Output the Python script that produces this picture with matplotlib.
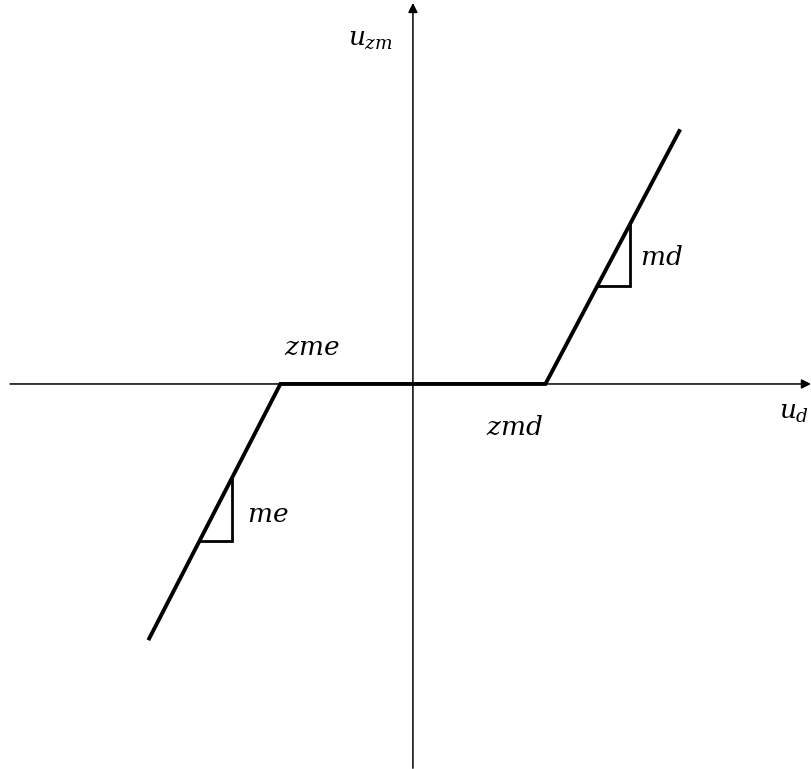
import numpy as np
import matplotlib
matplotlib.use("Agg")
import matplotlib.pyplot as plt

plt.rcParams["mathtext.fontset"] = "dejavuserif"

# Dead-zone parameters
zme = -5.0          # left edge of dead zone
zmd = 5.0           # right edge of dead zone
me = 1.94           # slope on the left branch
md = 1.89           # slope on the right branch
u_min, u_max = -9.95, 10.05   # extent of the drawn characteristic

# slope-indicator triangles: (x start, x end)
tri_md = (6.95, 8.2)
tri_me = (-8.05, -6.82)

# axis extents
x_lim = (-15.58, 15.02)
y_lim = (-14.53, 14.49)


def dead_zone(u):
    return np.where(u > zmd, md * (u - zmd), np.where(u < zme, me * (u - zme), 0.0))


fig = plt.figure(figsize=(8.11, 7.69), dpi=100)
ax = fig.add_axes([0, 0, 1, 1])
ax.set_xlim(*x_lim)
ax.set_ylim(*y_lim)
ax.axis("off")

# coordinate axes with arrowheads
ax.annotate("", xy=(x_lim[1], 0), xytext=(-15.2, 0),
            arrowprops=dict(arrowstyle="-|>", lw=1.1, color="black",
                            mutation_scale=14, shrinkA=0, shrinkB=0))
ax.annotate("", xy=(0, 14.38), xytext=(0, y_lim[0] + 0.03),
            arrowprops=dict(arrowstyle="-|>", lw=1.1, color="black",
                            mutation_scale=14, shrinkA=0, shrinkB=0))

# characteristic
u = np.array([u_min, zme, zmd, u_max])
ax.plot(u, dead_zone(u), color="black", lw=2.8, solid_joinstyle="miter")

# slope triangles
for (xa, xb) in (tri_md, tri_me):
    ya = float(dead_zone(np.array(xa)))
    yb = float(dead_zone(np.array(xb)))
    lo, hi = (ya, yb) if ya < yb else (yb, ya)
    ax.plot([xa, xb, xb], [lo, lo, hi], color="black", lw=2.0,
            solid_joinstyle="miter")

fs = 19
ax.text(-1.6, 13.0, r"$u_{zm}$", fontsize=fs, ha="center", va="center")
ax.text(13.8, -1.05, r"$u_d$", fontsize=fs, ha="left", va="center")
ax.text(zme + 1.2, 1.35, r"$zme$", fontsize=fs, ha="center", va="center")
ax.text(zmd - 1.15, -1.65, r"$zmd$", fontsize=fs, ha="center", va="center")
ax.text(tri_md[1] + 0.35, 4.75, r"$md$", fontsize=fs, ha="left", va="center")
ax.text(tri_me[1] + 0.55, -4.95, r"$me$", fontsize=fs, ha="left", va="center")

fig.savefig("out.png", dpi=100)
